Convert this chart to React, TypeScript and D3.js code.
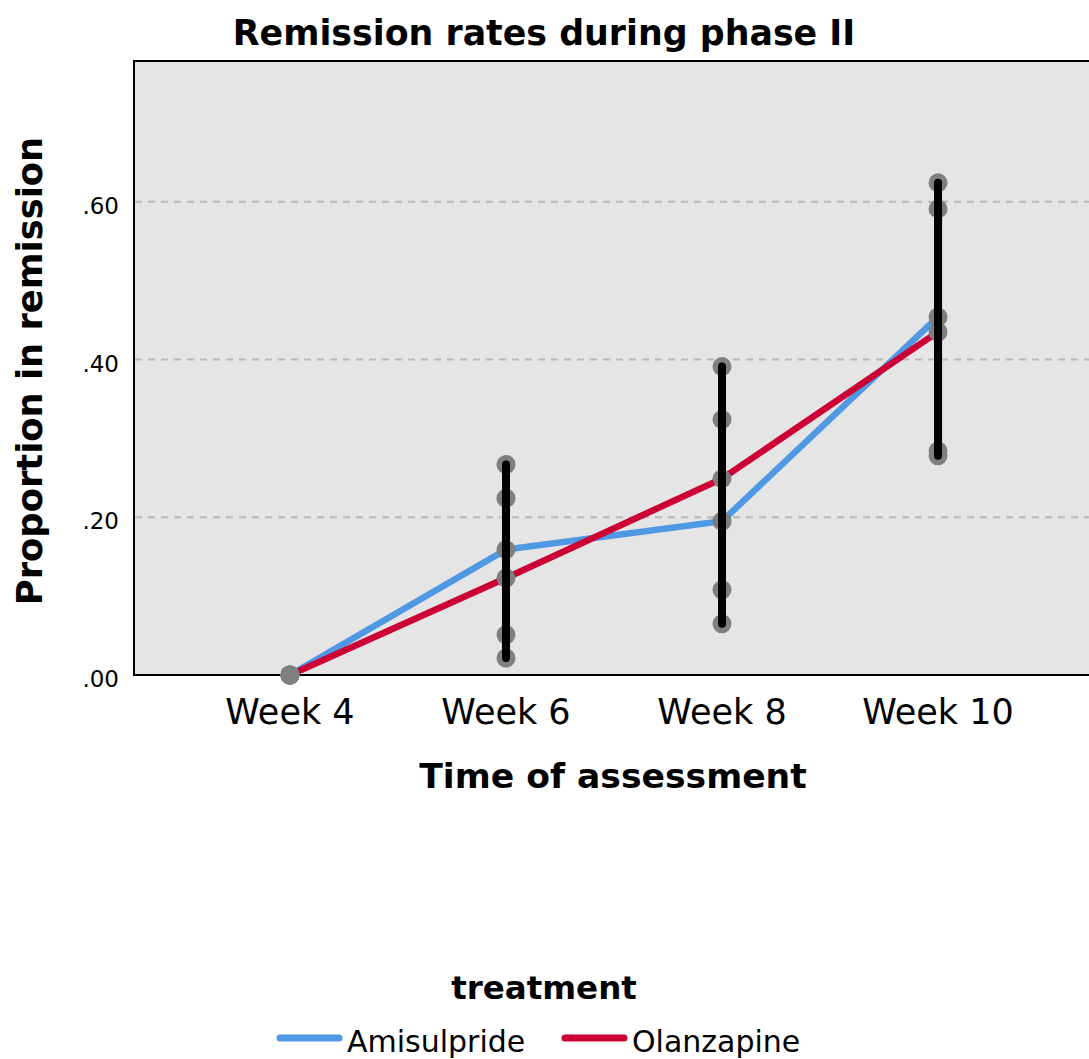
import React, { useEffect, useRef } from 'react';
import * as d3 from 'd3';

// time points and series values (proportion in remission)
const weeks: string[] = ["Week 4", "Week 6", "Week 8", "Week 10"];
const amisulpride: number[] = [0, 0.159, 0.195, 0.454];
const olanzapine: number[] = [0, 0.123, 0.249, 0.435];
// confidence interval ends
const amiLow: number[] = [0, 0.051, 0.065, 0.284];
const amiHigh: number[] = [0, 0.267, 0.324, 0.624];
const olaLow: number[] = [0, 0.0215, 0.108, 0.278];
const olaHigh: number[] = [0, 0.224, 0.391, 0.591];
const yTicks: number[] = [0, 0.2, 0.4, 0.6];
const seriesNames: string[] = ["Amisulpride", "Olanzapine"];
const seriesColors: string[] = ["#4f98e3", "#cc0035"];

const W = 1089;
const H = 1059;
const FONT = "'DejaVu Sans', sans-serif";

const App = () => {
  const ref = useRef<SVGSVGElement>(null);

  useEffect(() => {
    const svg = d3.select(ref.current);
    svg.selectAll("*").remove();

    const left = 134, right = 1094, top = 61, bottom = 675;

    const x = d3.scalePoint<string>()
      .domain(weeks)
      .range([left, right])
      .padding(0.722);

    const y = d3.scaleLinear()
      .domain([0, 0.7785])
      .range([bottom, top]);

    // plot background
    svg.append("rect")
      .attr("x", left)
      .attr("y", top)
      .attr("width", right - left)
      .attr("height", bottom - top)
      .attr("fill", "#e5e5e5")
      .attr("stroke", "black")
      .attr("stroke-width", 2);

    // dashed grid
    svg.selectAll(".grid")
      .data(yTicks.filter(d => d > 0))
      .join("line")
      .attr("x1", left + 1)
      .attr("x2", W)
      .attr("y1", d => y(d))
      .attr("y2", d => y(d))
      .attr("stroke", "#b9b9b9")
      .attr("stroke-width", 2)
      .attr("stroke-dasharray", "7,6");

    // y tick labels
    svg.selectAll(".ytick")
      .data(yTicks)
      .join("text")
      .attr("x", 119)
      .attr("y", d => y(d) + 12)
      .attr("text-anchor", "end")
      .attr("font-family", FONT)
      .attr("font-size", 23)
      .text(d => d3.format(".2f")(d).replace(/^0/, ""));

    // x tick labels
    svg.selectAll(".xtick")
      .data(weeks)
      .join("text")
      .attr("x", d => x(d) as number)
      .attr("y", 724)
      .attr("text-anchor", "middle")
      .attr("font-family", FONT)
      .attr("font-size", 35)
      .text(d => d);

    const series = [amisulpride, olanzapine];
    const line = d3.line<number>()
      .x((d, i) => x(weeks[i]) as number)
      .y(d => y(d));

    series.forEach((vals, k) => {
      svg.append("path")
        .attr("d", line(vals))
        .attr("fill", "none")
        .attr("stroke", seriesColors[k])
        .attr("stroke-width", 6.5);
    });

    // grey markers at means and interval ends
    const bars = weeks.flatMap((w, i) => [
      { w, mean: amisulpride[i], lo: amiLow[i], hi: amiHigh[i] },
      { w, mean: olanzapine[i], lo: olaLow[i], hi: olaHigh[i] },
    ]);
    const dots = bars.flatMap(b => [b.lo, b.mean, b.hi].map(v => ({ w: b.w, v })));

    svg.selectAll(".dot")
      .data(dots)
      .join("circle")
      .attr("cx", d => x(d.w) as number)
      .attr("cy", d => y(d.v))
      .attr("r", 9.5)
      .attr("fill", "#7f7f7f");

    svg.selectAll(".bar")
      .data(bars.filter(b => b.hi > b.lo))
      .join("line")
      .attr("x1", d => x(d.w) as number)
      .attr("x2", d => x(d.w) as number)
      .attr("y1", d => y(d.lo))
      .attr("y2", d => y(d.hi))
      .attr("stroke", "black")
      .attr("stroke-width", 8)
      .attr("stroke-linecap", "round");

    // titles
    svg.append("text")
      .attr("x", 544)
      .attr("y", 45)
      .attr("text-anchor", "middle")
      .attr("font-family", FONT)
      .attr("font-weight", "bold")
      .attr("font-size", 34.8)
      .text("Remission rates during phase II");

    svg.append("text")
      .attr("x", 613)
      .attr("y", 788)
      .attr("text-anchor", "middle")
      .attr("font-family", FONT)
      .attr("font-weight", "bold")
      .attr("font-size", 34.6)
      .text("Time of assessment");

    svg.append("text")
      .attr("transform", "translate(42, 371) rotate(-90)")
      .attr("text-anchor", "middle")
      .attr("font-family", FONT)
      .attr("font-weight", "bold")
      .attr("font-size", 35.3)
      .text("Proportion in remission");

    // legend
    svg.append("text")
      .attr("x", 544)
      .attr("y", 999)
      .attr("text-anchor", "middle")
      .attr("font-family", FONT)
      .attr("font-weight", "bold")
      .attr("font-size", 32.5)
      .text("treatment");

    const legendX = [277, 562];
    const legend = svg.selectAll(".leg")
      .data(seriesNames)
      .join("g")
      .attr("transform", (d, i) => `translate(${legendX[i]}, 1038)`);
    legend.append("line")
      .attr("x1", 3)
      .attr("x2", 62)
      .attr("y1", 0)
      .attr("y2", 0)
      .attr("stroke", (d, i) => seriesColors[i])
      .attr("stroke-width", 7)
      .attr("stroke-linecap", "round");
    legend.append("text")
      .attr("x", 70)
      .attr("y", 14)
      .attr("font-family", FONT)
      .attr("font-size", 30)
      .text(d => d);
  }, []);

  return (
    <div style={{ position: "absolute", left: 0, top: 0, width: W, height: H, overflow: "hidden", background: "white" }}>
      <svg ref={ref} width={W} height={H} />
    </div>
  );
};

export default App;
